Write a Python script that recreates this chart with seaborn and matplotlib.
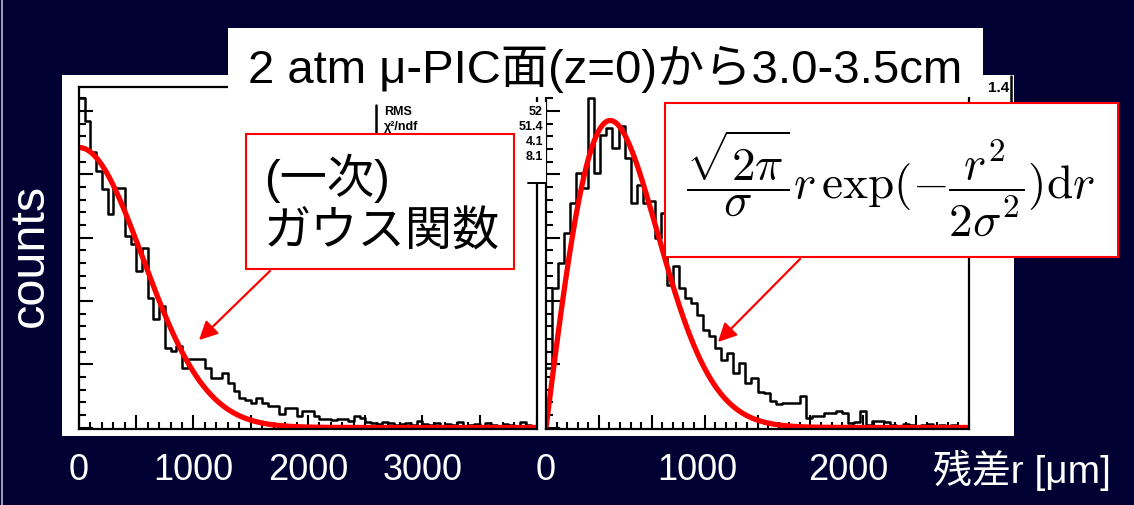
import numpy as np
import pandas as pd
import matplotlib
matplotlib.use("Agg")
import matplotlib.pyplot as plt
import seaborn as sns
from matplotlib.patches import Rectangle, FancyArrowPatch
from matplotlib.lines import Line2D
from matplotlib.ticker import MultipleLocator

# ---------------- data ----------------
title_text = "2 atm μ-PIC面(z=0)から3.0-3.5cm"
gauss_lines = ["(一次)", "ガウス関数"]
formula_text = r"$\dfrac{\sqrt{2\pi}}{\sigma}r\,\exp(-\dfrac{r^2}{2\sigma^2})\mathrm{d}r$"
y_label = "counts"
x_unit_label = "残差r [μm]"

left_bin_width = 50.0   # μm
left_counts = [330, 307, 276, 257, 239, 214, 240, 240, 192, 184,
               157, 180, 130, 109, 122, 80, 77, 82, 60, 69,
               69, 69, 60, 50, 50, 55, 45, 37, 30, 28,
               25, 30, 25, 22, 22, 14, 20, 20, 12, 17,
               17, 12, 9, 9, 8, 9, 9, 7, 12, 10,
               6, 5, 4, 6, 5, 3, 4, 5, 3, 7,
               4, 3, 5, 2, 4, 3, 6, 2, 3, 4,
               2, 5, 3, 2, 4, 3, 2, 6, 3, 2]
left_fit_amplitude = 280.0
left_fit_sigma = 556.0   # μm
left_xmax = 4000
left_tick_labels = [0, 1000, 2000, 3000]

right_bin_width = 40.0   # μm
right_counts = [60, 140, 165, 195, 225, 255, 240, 330, 255, 293,
                300, 280, 302, 270, 225, 243, 225, 227, 190,
                215, 143, 162, 140, 130, 125, 113, 98, 92, 80,
                68, 75, 55, 65, 45, 50, 36, 35, 27, 24,
                25, 25, 25, 32, 10, 12, 12, 15, 15, 17,
                15, 5, 6, 17, 3, 7, 7, 6,
                3, 2, 4, 3, 2, 3, 4, 2, 3, 2, 3, 2, 1]
right_fit_peak = 307.0
right_fit_sigma = 425.0  # μm
right_xmax = 2800
right_tick_labels = [0, 1000, 2000]

stats_names = ["RMS", "χ²/ndf"]
stats_values = ["52", "51.4", "4.1", "8.1"]

# ---------------- style ----------------
sns.set_style("white")
plt.rcParams['font.family'] = ['Liberation Sans', 'Noto Sans CJK JP', 'DejaVu Sans']
plt.rcParams['mathtext.fontset'] = 'cm'

W, H = 1134, 506
NAVY = '#000033'
fig = plt.figure(figsize=(W / 100, H / 100), dpi=100, facecolor=NAVY)


def rect(x0, y0, x1, y1):
    return [x0 / W, 1 - y1 / H, (x1 - x0) / W, (y1 - y0) / H]


def fig_box(x0, y0, x1, y1, fc='white', ec='none', lw=0.0, z=1):
    p = Rectangle((x0 / W, 1 - y1 / H), (x1 - x0) / W, (y1 - y0) / H,
                  transform=fig.transFigure, facecolor=fc, edgecolor=ec,
                  linewidth=lw, zorder=z)
    fig.add_artist(p)


def fig_line(xs, ys, color='black', lw=1.5, z=2):
    fig.add_artist(Line2D([x / W for x in xs], [1 - y / H for y in ys],
                          transform=fig.transFigure, color=color, lw=lw, zorder=z))


def fig_text(x, y, s, **kw):
    return fig.text(x / W, 1 - y / H, s, **kw)


# white picture area
fig_box(62, 76, 1014, 437, z=-1)
fig_line([2, 2], [0, 506], color='#b8b8c8', lw=1.2, z=-1)

axL = fig.add_axes(rect(79, 88, 537, 430))
axR = fig.add_axes(rect(546, 95, 969, 430))


def draw_panel(ax, counts, bw, xmax, ymax, fit, major, minor, tick_labels):
    n = len(counts)
    centers = (np.arange(n) + 0.5) * bw
    df = pd.DataFrame({'r': centers, 'w': np.asarray(counts, float)})
    sns.histplot(data=df, x='r', weights='w', bins=n, binrange=(0.0, n * bw),
                 element='step', fill=False, color='black', linewidth=1.8,
                 ax=ax)
    xs = np.linspace(0, xmax, 500)
    sns.lineplot(x=xs, y=fit(xs), color='red', linewidth=3.8, ax=ax)
    ax.set_xlim(0, xmax)
    ax.set_ylim(-1.5, ymax)
    ax.set_facecolor('white')
    ax.set_xlabel('')
    ax.set_ylabel('')
    for s in ax.spines.values():
        s.set_color('black')
        s.set_linewidth(1.6)
    ax.xaxis.set_major_locator(MultipleLocator(major))
    ax.xaxis.set_minor_locator(MultipleLocator(minor))
    ax.yaxis.set_major_locator(MultipleLocator(63.3))
    ax.yaxis.set_minor_locator(MultipleLocator(12.66))
    ax.tick_params(which='both', direction='in', bottom=True, left=True,
                   top=False, right=False, labelbottom=False, labelleft=False,
                   color='black', width=1.5)
    ax.tick_params(which='major', length=10)
    ax.tick_params(which='minor', length=5)
    for v in tick_labels:
        ax.annotate(str(v), xy=(v, 0), xycoords=('data', 'axes fraction'),
                    xytext=(0, -41 * 0.72), textcoords='offset points',
                    ha='center', va='center', fontsize=26, color='white',
                    annotation_clip=False)


draw_panel(axL, left_counts, left_bin_width, left_xmax, 340.5,
           lambda x: left_fit_amplitude * np.exp(-x ** 2 / (2 * left_fit_sigma ** 2)),
           500, 100, left_tick_labels)
draw_panel(axR, right_counts, right_bin_width, right_xmax, 333.5,
           lambda x: right_fit_peak * (x / right_fit_sigma) * np.exp(0.5 - x ** 2 / (2 * right_fit_sigma ** 2)),
           350, 70, right_tick_labels)

# stats boxes (partly hidden in the original)
fig_box(376, 103, 546, 184, z=2)
fig_line([376, 376], [106, 184], lw=1.8, z=3)
fig_line([528, 546], [184, 184], lw=1.4, z=3)
for i, s in enumerate(stats_names):
    fig_text(384, 112 + 15 * i, s, fontsize=9, fontweight='bold', color='black',
             ha='left', va='center', zorder=4)
for i, s in enumerate(stats_values):
    fig_text(543, 112 + 15 * i, s, fontsize=9, fontweight='bold', color='black',
             ha='right', va='center', zorder=4)
fig_text(1009, 88, "1.4", fontsize=11, fontweight='bold', color='black',
         ha='right', va='center', zorder=4)
fig_line([1011, 1011], [77, 103], lw=1.8, z=3)

# title box
fig_box(228, 29, 983, 98, z=5)
fig_text(605, 69, title_text, fontsize=34, color='black', ha='center',
         va='center', zorder=6)

# gauss label box
fig_box(246, 135, 514, 270, ec='red', lw=1.5, z=5)
fig_text(264, 178, gauss_lines[0], fontsize=34, color='black', ha='left',
         va='center', zorder=6)
fig_text(264, 234, gauss_lines[1], fontsize=34, color='black', ha='left',
         va='center', zorder=6)

# formula box
fig_box(665, 104, 1118, 258, ec='red', lw=1.5, z=5)
fig_text(890, 183, formula_text, fontsize=34, color='black', ha='center',
         va='center', zorder=6)

# arrows
for (xa, ya), (xb, yb) in [((272, 270), (197, 343)), ((802, 258), (716, 345))]:
    fig.add_artist(FancyArrowPatch((xa / W, 1 - ya / H), (xb / W, 1 - yb / H),
                                   transform=fig.transFigure, arrowstyle='-|>',
                                   mutation_scale=28, color='red', lw=1.6,
                                   zorder=7))

fig_text(30, 255, y_label, rotation=90, fontsize=35, color='white',
         ha='center', va='center')
fig_text(1022, 470, x_unit_label, fontsize=28, color='white', ha='center',
         va='center')

fig.savefig('out.png', dpi=100, facecolor=NAVY)
